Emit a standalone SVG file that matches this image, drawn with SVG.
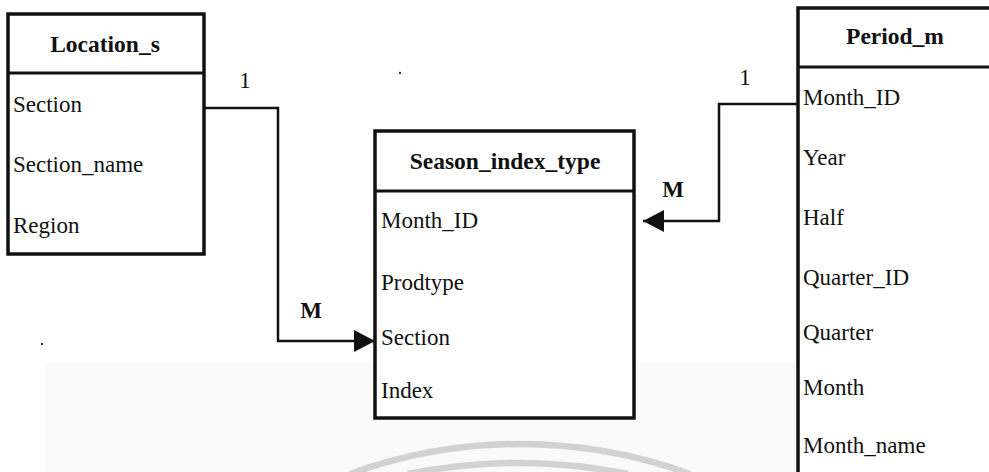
<svg xmlns="http://www.w3.org/2000/svg" width="989" height="472" viewBox="0 0 989 472">
  <style>
    .box { fill: #ffffff; stroke: #111111; stroke-width: 3.5; }
    .div { stroke: #111111; stroke-width: 3; fill: none; }
    .title { font-family: "Liberation Serif", "Times New Roman", serif; font-size: 23.5px; font-weight: bold; fill: #111111; text-anchor: middle; }
    .attr { font-family: "Liberation Serif", "Times New Roman", serif; font-size: 23px; fill: #111111; }
    .card { font-family: "Liberation Serif", "Times New Roman", serif; font-size: 23px; fill: #111111; text-anchor: middle; }
    .card.many { font-weight: bold; }
    .link { fill: none; stroke: #111111; stroke-width: 2.5; }
    .mark { fill: none; stroke: #d2d2d2; stroke-width: 6.5; }
  </style>
  <defs>
    <marker id="arrow" markerUnits="userSpaceOnUse" markerWidth="22" markerHeight="22" refX="21" refY="11" orient="auto">
      <path d="M0,0 L21,11 L0,22 z" fill="#111111"/>
    </marker>
  </defs>

  <rect width="989" height="472" fill="#ffffff"/>
  <!-- faint shaded band and seal arcs near the bottom -->
  <rect x="45" y="362" width="944" height="110" fill="#fafafa"/>
  <g id="seal">
    <path class="mark" d="M350,474 A497,497 0 0 1 690,474"/>
    <path class="mark" d="M408,474 A555,555 0 0 1 628,474"/>
  </g>
  <circle cx="400" cy="73" r="1.2" fill="#333"/>
  <circle cx="42" cy="344" r="1.2" fill="#333"/>

  <!-- Location_s entity -->
  <g id="location_s">
    <rect class="box" x="8" y="14" width="196" height="240"/>
    <line class="div" x1="8" y1="73" x2="204" y2="73"/>
    <text class="title" x="105" y="52">Location_s</text>
    <text class="attr" x="13" y="112">Section</text>
    <text class="attr" x="13" y="172">Section_name</text>
    <text class="attr" x="13" y="233">Region</text>
  </g>

  <!-- Season_index_type entity -->
  <g id="season_index_type">
    <rect class="box" x="375" y="131" width="259" height="287"/>
    <line class="div" x1="375" y1="191" x2="634" y2="191"/>
    <text class="title" x="505" y="169">Season_index_type</text>
    <text class="attr" x="381" y="228">Month_ID</text>
    <text class="attr" x="381" y="290">Prodtype</text>
    <text class="attr" x="381" y="345">Section</text>
    <text class="attr" x="381" y="398">Index</text>
  </g>

  <!-- Period_m entity (runs past the right and bottom edges) -->
  <g id="period_m">
    <rect class="box" x="798" y="8" width="230" height="500"/>
    <line class="div" x1="798" y1="67" x2="1000" y2="67"/>
    <text class="title" x="895" y="44">Period_m</text>
    <text class="attr" x="803" y="105">Month_ID</text>
    <text class="attr" x="803" y="165">Year</text>
    <text class="attr" x="803" y="225">Half</text>
    <text class="attr" x="803" y="285">Quarter_ID</text>
    <text class="attr" x="803" y="340">Quarter</text>
    <text class="attr" x="803" y="395">Month</text>
    <text class="attr" x="803" y="453">Month_name</text>
  </g>

  <!-- relationships -->
  <g id="connectors">
    <path class="link" d="M204,108 H278 V341 H375" marker-end="url(#arrow)"/>
    <text class="card" x="245" y="88">1</text>
    <text class="card many" x="311" y="318">M</text>

    <path class="link" d="M798,104 H719 V221 H643" marker-end="url(#arrow)"/>
    <text class="card" x="745" y="85">1</text>
    <text class="card many" x="673" y="197">M</text>
  </g>
</svg>
